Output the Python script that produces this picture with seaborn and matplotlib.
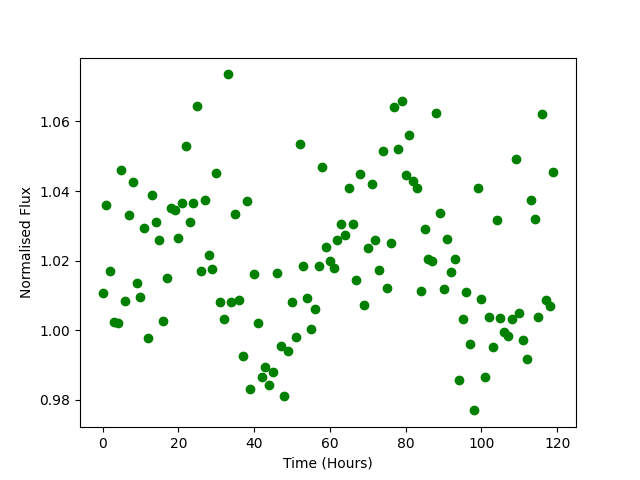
import matplotlib
matplotlib.use("Agg")
import matplotlib.pyplot as plt
import numpy as np
import pandas as pd
import seaborn as sns

# hourly time steps and the normalised flux
hours = list(range(120))
flux = [
    1.0108, 1.0360, 1.0170, 1.0025, 1.0020, 1.0460, 1.0085, 1.0330, 1.0425, 1.0137,
    1.0097, 1.0295, 0.9978, 1.0390, 1.0310, 1.0260, 1.0027, 1.0150, 1.0350, 1.0345,
    1.0265, 1.0365, 1.0530, 1.0310, 1.0365, 1.0645, 1.0170, 1.0375, 1.0215, 1.0175,
    1.0453, 1.0080, 1.0033, 1.0735, 1.0080, 1.0335, 1.0088, 0.9927, 1.0370, 0.9832,
    1.0163, 1.0020, 0.9866, 0.9895, 0.9843, 0.9880, 1.0165, 0.9955, 0.9810, 0.9940,
    1.0082, 0.9980, 1.0534, 1.0186, 1.0093, 1.0004, 1.0062, 1.0186, 1.0470, 1.0240,
    1.0200, 1.0180, 1.0260, 1.0306, 1.0275, 1.0410, 1.0306, 1.0145, 1.0450, 1.0073,
    1.0237, 1.0420, 1.0260, 1.0174, 1.0516, 1.0122, 1.0250, 1.0640, 1.0520, 1.0660,
    1.0445, 1.0560, 1.0430, 1.0410, 1.0112, 1.0290, 1.0205, 1.0198, 1.0623, 1.0337,
    1.0118, 1.0263, 1.0167, 1.0205, 0.9857, 1.0033, 1.0110, 0.9960, 0.9770, 1.0410,
    1.0090, 0.9866, 1.0039, 0.9953, 1.0318, 1.0036, 0.9996, 0.9984, 1.0033, 1.0493,
    1.0050, 0.9973, 0.9918, 1.0373, 1.0320, 1.0039, 1.0620, 1.0088, 1.0070, 1.0455,
]

df = pd.DataFrame({"time": hours, "flux": flux})

fig, ax = plt.subplots(figsize=(6.4, 4.8), dpi=100)
sns.scatterplot(
    data=df,
    x="time",
    y="flux",
    color="green",
    s=36,
    edgecolor="green",
    linewidth=1,
    ax=ax,
)
ax.set_xlabel("Time (Hours)")
ax.set_ylabel("Normalised Flux")

fig.savefig("out.png", dpi=100)
